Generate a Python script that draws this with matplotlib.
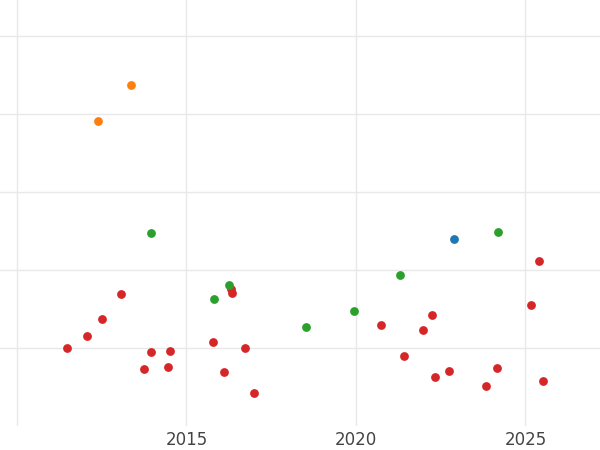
import matplotlib
matplotlib.use('Agg')
import matplotlib.pyplot as plt

orange_x = [2013.37, 2012.38]
orange_y = [3.37, 2.91]
green_x = [2013.95, 2016.25, 2015.81, 2018.52, 2019.94, 2021.31, 2024.19]
green_y = [1.47, 0.81, 0.63, 0.27, 0.47, 0.94, 1.49]
blue_x = [2022.88]
blue_y = [1.40]
red_x = [2011.48, 2012.06, 2012.5, 2013.08, 2013.75, 2013.95, 2014.45, 2014.51,
         2015.78, 2016.10, 2016.31, 2016.34, 2016.72, 2016.98, 2020.73, 2021.42,
         2021.98, 2022.24, 2022.33, 2022.76, 2023.84, 2024.16, 2025.17, 2025.41, 2025.52]
red_y = [0.0, 0.15, 0.37, 0.69, -0.27, -0.05, -0.24, -0.04,
         0.08, -0.31, 0.76, 0.71, 0.0, -0.58, 0.29, -0.10,
         0.23, 0.42, -0.37, -0.29, -0.49, -0.26, 0.55, 1.12, -0.42]

fig = plt.figure(figsize=(6, 4.5), dpi=100)
ax = fig.add_axes([0, 0.053, 1, 0.947])
for xs, ys, c in [(red_x, red_y, '#d62728'), (green_x, green_y, '#2ca02c'),
                  (blue_x, blue_y, '#1f77b4'), (orange_x, orange_y, '#ff7f0e')]:
    ax.scatter(xs, ys, s=40, color=c, zorder=3, linewidths=0)

ax.set_xlim(2009.5, 2027.2)
ax.set_ylim(-1, 4.46)
ax.set_xticks([2010, 2015, 2020, 2025])
ax.set_xticklabels(['', '2015', '2020', '2025'])
ax.set_yticks([0, 1, 2, 3, 4])
ax.set_yticklabels([])
ax.tick_params(length=0, labelsize=12, labelcolor='#444444')
ax.grid(True, color='#e8e8e8', linewidth=1)
for s in ax.spines.values():
    s.set_visible(False)
fig.savefig('out.png')
